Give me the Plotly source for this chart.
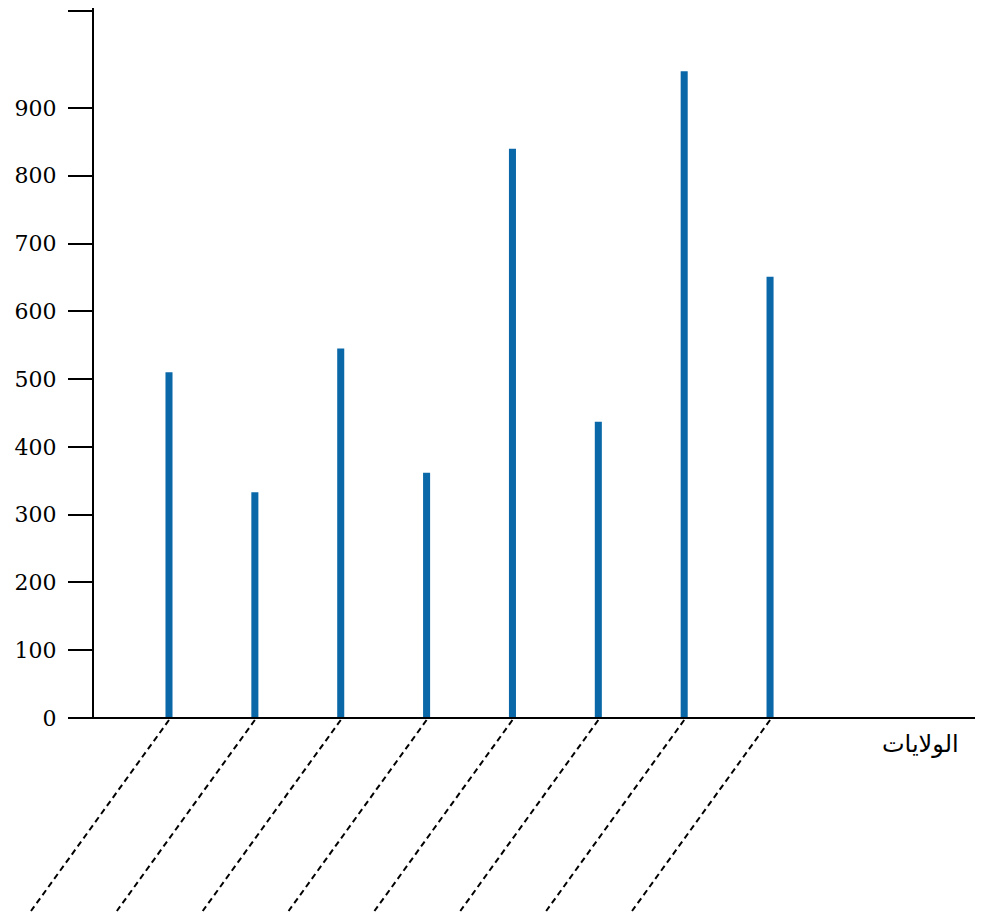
import plotly.graph_objects as go

# ---- data ----
states = ["1", "2", "3", "4", "5", "6", "7", "8"]
values = [510, 333, 545, 362, 840, 437, 954, 651]
y_ticks = [0, 100, 200, 300, 400, 500, 600, 700, 800, 900, 1043]
y_tick_labels = ["0", "100", "200", "300", "400", "500", "600", "700", "800", "900", ""]
x_title = "الولايات"

# page body has an 8px margin, so the figure is sized to fill the rest of the window
W, H = 975, 909
ML, MR, MT, MB = 17, 0, 0, 0
yaxis_pos = (85 - ML) / (W - ML - MR)

fig = go.Figure()
fig.add_trace(go.Bar(
    x=states, y=values, width=0.082,
    marker=dict(color="#0a68a8", line=dict(width=0)),
    hoverinfo="x+y",
))

shapes = []
# dashed guide lines from each bar base
for i, s in enumerate(states):
    shapes.append(dict(
        type="line", xref="x", yref="y",
        xsizemode="pixel", ysizemode="pixel",
        xanchor=i, yanchor=0,
        x0=0, x1=-138, y0=-2, y1=-193,
        line=dict(color="black", width=2, dash="6px,4px"),
    ))
# axis lines
shapes.append(dict(type="line", xref="paper", yref="y", x0=yaxis_pos, x1=yaxis_pos,
                   y0=0, y1=1060, line=dict(color="black", width=2)))
shapes.append(dict(type="line", xref="paper", yref="y", x0=yaxis_pos, x1=1,
                   y0=0, y1=0, line=dict(color="black", width=2)))

fig.update_layout(
    width=W, height=H,
    margin=dict(l=ML, r=MR, t=MT, b=MB, pad=0),
    paper_bgcolor="white", plot_bgcolor="white",
    showlegend=False,
    shapes=shapes,
    xaxis=dict(type="category", range=[-1.677, 9.48], showline=False, showgrid=False,
               zeroline=False, showticklabels=False, ticks=""),
    yaxis=dict(range=[-293.6, 1047.5], anchor="free", position=yaxis_pos,
               tickmode="array", tickvals=y_ticks, ticktext=y_tick_labels,
               ticks="outside", ticklen=25, tickwidth=2, tickcolor="black",
               showline=False, showgrid=False, zeroline=False,
               ticklabelstandoff=7,
               tickfont=dict(family="DejaVu Serif", size=22, color="black")),
    annotations=[dict(
        text=x_title, xref="paper", yref="y", x=1, y=0,
        xanchor="right", yanchor="top", xshift=-22, yshift=-10,
        showarrow=False, font=dict(family="DejaVu Sans", size=24, color="black"),
    )],
)

fig.write_html("out.html")
